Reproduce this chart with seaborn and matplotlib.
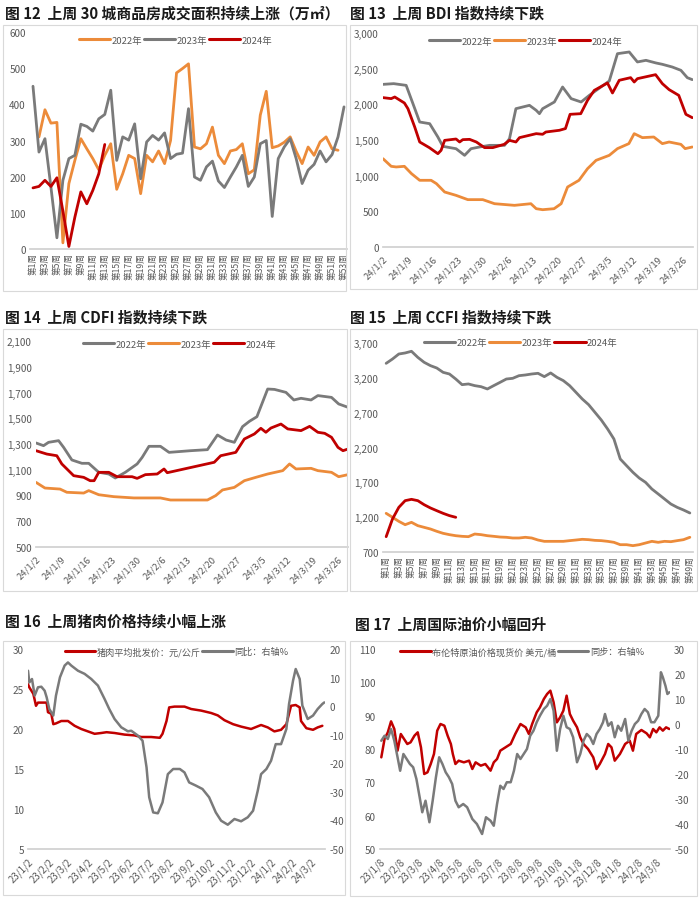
import numpy as np
import pandas as pd
import matplotlib
matplotlib.use("Agg")
import matplotlib.pyplot as plt
import seaborn as sns
from matplotlib.lines import Line2D
from matplotlib.patches import Rectangle
from matplotlib.ticker import FuncFormatter

sns.set_theme(style="white")
plt.rcParams["font.family"] = ["Noto Sans CJK SC", "DejaVu Sans"]
plt.rcParams["axes.unicode_minus"] = False

ORANGE = "#EC8B3A"
GRAY = "#7A7A7A"
RED = "#C00000"
TXT = "#595959"
W, H = 700, 904

# ---- 图12: 30城商品房成交面积 (weekly) ----
weeks53 = list(range(1, 54))
area_2022 = [np.nan, 310, 385, 348, 350, 17, 181, 245, 305, 277, 250, 219, 259, 291, 165, 208, 259, 250, 153, 259,
             241, 271, 236, 300, 487, 499, 512, 282, 277, 291, 337, 259, 236, 271, 275, 291, 208, 219, 370, 436,
             280, 285, 295, 310, 270, 236, 282, 259, 296, 310, 277, 273, np.nan]
area_2023 = [450, 268, 305, 171, 31, 190, 250, 259, 345, 339, 326, 360, 372, 439, 245, 310, 301, 346, 194, 296,
             314, 301, 321, 250, 262, 265, 388, 199, 190, 227, 243, 188, 170, 199, 227, 259, 173, 199, 291, 300,
             90, 250, 282, 305, 250, 181, 218, 234, 271, 241, 261, 310, 393]
area_2024 = [169, 173, 190, 173, 197, 105, 7, 88, 158, 125, 162, 208, 289]

# ---- 图13: BDI (days since 1/2) ----
bdi22_day = [0, 3, 6.5, 8.4, 10.3, 13.1, 15.4, 16.8, 20.5, 22.9, 24.7, 27.1, 29.9, 34.1, 35.5, 37.3, 41.1, 43, 43.9,
             44.8, 48.1, 50.4, 52.8, 55.6, 57.9, 63.5, 65.8, 69.1, 71.4, 73.8, 76.6, 78.4, 81.2, 83.6, 85.4, 86.8]
bdi22 = [2280, 2290, 2266, 2010, 1752, 1729, 1542, 1411, 1378, 1285, 1378, 1402, 1425, 1425, 1519, 1939, 1986, 1916,
         1869, 1939, 2033, 2243, 2080, 2033, 2126, 2327, 2710, 2734, 2594, 2617, 2580, 2561, 2523, 2477, 2374, 2346]
bdi23_day = [0, 2.3, 3.7, 6, 8, 10.3, 13.5, 15, 17.3, 20.5, 23.8, 28, 31.3, 36.9, 41.5, 43, 44.8, 48, 50, 51.8,
             55, 57.4, 59.8, 63.5, 65.8, 69, 70.5, 72.8, 76, 78.4, 80.3, 83.6, 84.8, 86.8]
bdi23 = [1238, 1131, 1122, 1131, 1028, 935, 935, 888, 771, 724, 664, 664, 607, 584, 607, 537, 523, 537, 607, 841,
         935, 1098, 1215, 1285, 1379, 1449, 1589, 1533, 1542, 1449, 1472, 1439, 1379, 1402]
bdi24_day = [0, 2.3, 3.3, 6, 7, 8.9, 10.3, 13, 15.4, 16.3, 17.3, 20.5, 21.5, 22.4, 24.3, 26.2, 28.5, 30.8, 34, 35.5,
             37.3, 38.3, 43, 44.8, 45.7, 49.5, 51.2, 52.5, 55.5, 57.4, 59.3, 63, 64.4, 66.3, 69.5, 70.5, 71.4, 76.5,
             78.4, 80.3, 83, 85, 86.8]
bdi24 = [2094, 2080, 2103, 2019, 1939, 1682, 1472, 1393, 1308, 1355, 1495, 1514, 1472, 1505, 1509, 1472, 1393, 1393,
         1439, 1495, 1472, 1533, 1589, 1580, 1612, 1636, 1660, 1860, 1869, 2056, 2196, 2299, 2159, 2337, 2374, 2313,
         2360, 2416, 2290, 2206, 2126, 1860, 1813]
day_ticks = ["24/1/2", "24/1/9", "24/1/16", "24/1/23", "24/1/30", "24/2/6", "24/2/13",
             "24/2/20", "24/2/27", "24/3/5", "24/3/12", "24/3/19", "24/3/26"]

# ---- 图14: CDFI ----
cdfi22_day = [0, 2.1, 3.5, 6.3, 7.7, 10, 12.8, 14.7, 17.5, 20.3, 22.1, 24.9, 28.2, 29.6, 31.5, 34.7, 37.1, 43.1,
              47.8, 50.6, 53, 55.3, 57.6, 59.5, 61.6, 64.6, 66.5, 69.7, 71.9, 73.9, 76.7, 78.6, 82.4, 84.4, 87]
cdfi22 = [1308, 1287, 1313, 1326, 1274, 1176, 1150, 1150, 1080, 1067, 1036, 1080, 1145, 1196, 1282, 1282, 1235,
          1248, 1256, 1370, 1331, 1313, 1435, 1476, 1512, 1727, 1724, 1701, 1642, 1655, 1642, 1676, 1662, 1611, 1585]
cdfi23_day = [0, 2.5, 6.7, 8.6, 13.3, 14.7, 17.5, 21.7, 27.3, 34.7, 37.5, 47.8, 50.1, 52, 55.3, 58.1, 61.3, 64.6,
              68.8, 70.7, 72.5, 76.7, 78.6, 82.4, 84.4, 87]
cdfi23 = [1002, 958, 950, 925, 919, 938, 906, 891, 881, 881, 865, 865, 899, 943, 963, 1015, 1041, 1067, 1093, 1145,
          1106, 1111, 1093, 1080, 1046, 1062]
cdfi24_day = [0, 3, 5.8, 7.2, 10.5, 13.3, 15.1, 16.2, 17.5, 20.3, 22.6, 26.8, 28.2, 30.5, 33.8, 35.7, 36.6, 49.7,
              51.5, 55.7, 58.1, 60.9, 62.7, 64.1, 65.5, 68.3, 70.2, 73.9, 76.3, 78.6, 80.5, 82.4, 84.2, 85.6, 87]
cdfi24 = [1248, 1222, 1209, 1145, 1054, 1041, 1015, 1015, 1080, 1080, 1046, 1046, 1033, 1062, 1067, 1106, 1077,
          1158, 1209, 1235, 1339, 1378, 1422, 1391, 1424, 1455, 1417, 1404, 1437, 1391, 1383, 1352, 1274, 1248, 1261]

# ---- 图15: CCFI (weekly) ----
weeks49 = list(range(1, 50))
ccfi22 = [3408, 3470, 3542, 3557, 3581, 3494, 3423, 3375, 3341, 3279, 3255, 3183, 3102, 3112, 3088, 3073, 3040,
          3088, 3135, 3183, 3193, 3231, 3241, 3255, 3265, 3217, 3270, 3207, 3160, 3088, 2992, 2896, 2815, 2705,
          2595, 2466, 2322, 2035, 1939, 1844, 1762, 1700, 1604, 1533, 1461, 1389, 1341, 1303, 1260]
ccfi23 = [1255, 1198, 1140, 1092, 1126, 1078, 1054, 1030, 997, 968, 949, 934, 925, 920, 958, 949, 934, 925, 915,
          911, 901, 901, 911, 901, 872, 853, 853, 853, 853, 863, 872, 882, 877, 867, 863, 853, 839, 805, 805, 791,
          805, 829, 853, 839, 853, 848, 863, 877, 911]
ccfi24 = [920, 1174, 1341, 1437, 1456, 1437, 1379, 1332, 1293, 1255, 1222, 1198]

# ---- 图16: 猪肉 (days since 2023-01-02) ----
pork_day = [0, 2, 8, 12, 15, 20, 28, 30, 35, 38, 42, 50, 60, 70, 80, 90, 100, 110, 118, 130, 145, 160, 170, 185,
            198, 202, 208, 212, 220, 235, 245, 260, 275, 285, 295, 308, 320, 335, 350, 360, 370, 380, 388, 395,
            402, 408, 410, 418, 428, 435, 442]
pork_price = [25.6, 25.2, 24.4, 22.9, 23.3, 23.3, 23.3, 22.1, 21.9, 20.6, 20.7, 21.0, 21.0, 20.4, 20.0, 19.7, 19.4,
              19.5, 19.6, 19.5, 19.3, 19.2, 19.0, 19.0, 18.9, 19.4, 21.0, 22.7, 22.8, 22.8, 22.5, 22.3, 22.0, 21.7,
              21.1, 20.6, 20.3, 20.0, 20.5, 20.2, 19.7, 19.9, 20.6, 22.9, 23.0, 22.7, 21.0, 20.1, 19.9, 20.2, 20.4]
pork_yoy_day = [0, 2, 6, 10, 15, 20, 25, 28, 32, 38, 42, 48, 55, 60, 65, 75, 85, 95, 105, 115, 122, 130, 140, 150,
                155, 165, 172, 178, 182, 188, 195, 202, 210, 218, 228, 235, 242, 252, 262, 272, 282, 290, 300, 310,
                320, 330, 338, 345, 350, 358, 365, 372, 380, 388, 392, 398, 402, 408, 412, 420, 428, 435, 442, 445]
pork_yoy = [12.4, 8.3, 9.5, 3.7, 6.6, 6.8, 5.4, 3.1, -1.0, -3.3, 3.7, 10.1, 14.2, 15.3, 14.2, 12.4, 11.3, 9.5, 7.2,
            2.5, -1.0, -4.5, -7.4, -8.8, -8.6, -10.3, -12.1, -21.4, -31.9, -37.2, -37.5, -33.7, -23.8, -22.0, -22.0,
            -23.2, -26.7, -27.8, -29.0, -31.9, -37.2, -40.1, -41.5, -39.5, -40.3, -38.9, -36.6, -29.6, -23.8, -22.0,
            -19.1, -13.3, -13.3, -8.0, 0.75, 8.9, 13.0, 9.5, 0.2, -4.5, -3.3, -1.0, 0.75, 1.3]

# ---- 图17: 布伦特原油 (days since 2023-01-08) ----
oil_day = [2, 7, 12, 17, 22, 27, 32, 37, 42, 47, 53, 58, 63, 68, 73, 78, 83, 88, 93, 99, 104, 109, 112, 116, 121,
           129, 137, 142, 147, 155, 162, 170, 175, 180, 185, 193, 201, 208, 216, 224, 229, 234, 241, 246, 252, 257,
           262, 267, 272, 277, 282, 287, 292, 297, 303, 308, 313, 320, 328, 333, 338, 346, 351, 356, 361, 369, 377,
           384, 389, 394, 402, 410, 415, 420, 425, 430, 435, 440, 445]
oil_price = [77.5, 83, 85, 88.3, 86, 79.5, 84.5, 83, 81.5, 82, 84, 85, 80.5, 72.5, 73, 75.5, 78.5, 85.5, 87.5, 87,
             84, 81.5, 78.5, 75.5, 76.5, 76, 76.5, 74, 76, 75, 75.5, 73.5, 76, 77, 79.5, 80.5, 81.5, 84.5, 87.5,
             86.5, 84.5, 87.5, 91, 92.5, 95, 96.5, 97.5, 94, 88, 89.5, 91.5, 96, 90.5, 88.5, 86.5, 83.5, 81.5, 80,
             77.5, 74, 75.5, 78.5, 81.5, 80.5, 76.5, 78.5, 81.5, 82.5, 79.5, 84.5, 85.7, 84.7, 83.5, 86, 85, 86.5,
             85.5, 86.5, 86]
oil_yoy_day = [2, 7, 12, 17, 22, 27, 31, 36, 41, 46, 51, 56, 61, 65, 70, 76, 81, 86, 91, 96, 101, 106, 111, 116,
               121, 128, 134, 142, 149, 157, 163, 170, 175, 180, 185, 190, 195, 201, 206, 211, 216, 221, 226, 231,
               236, 241, 246, 252, 257, 262, 267, 272, 277, 282, 287, 292, 297, 303, 308, 313, 318, 323, 328, 333,
               338, 343, 346, 351, 356, 361, 366, 371, 377, 382, 387, 392, 397, 402, 407, 412, 417, 422, 428, 432,
               435, 439, 442, 445]
oil_yoy = [-6.7, -4.7, -6.0, -2.0, -6.7, -13.3, -18.7, -12.0, -14.0, -16.0, -17.3, -22.0, -29.3, -35.3, -30.7,
           -39.3, -30.7, -21.3, -13.3, -16.0, -19.3, -21.3, -24.0, -30.7, -33.3, -32.0, -33.3, -38.0, -40.0, -44.0,
           -37.3, -38.7, -40.7, -32.0, -24.7, -26.0, -23.3, -23.3, -18.7, -12.0, -14.0, -12.0, -10.0, -4.7, -2.7,
           0.7, 3.3, 6.0, 7.3, 10.0, 5.3, -10.7, -2.0, 3.3, -1.3, -2.0, -5.3, -15.3, -12.0, -6.7, -4.0, -5.3, -8.0,
           -4.0, -2.0, 0.7, 4.0, -0.7, 0.7, -5.3, -0.7, -2.7, 2.0, -6.7, -2.7, 0.0, 1.3, 4.0, 6.0, 4.7, 0.7, 0.7,
           3.3, 20.7, 18.7, 15.3, 12.0, 12.7]


def place(l, t, r, b):
    return [l / W, 1 - b / H, (r - l) / W, (b - t) / H]


def frame(fig, l, t, r, b):
    fig.patches.append(Rectangle((l / W, 1 - b / H), (r - l) / W, (b - t) / H, transform=fig.transFigure,
                                 fill=False, edgecolor="#d9d9d9", lw=0.8))


def title(fig, x, y, s):
    fig.text(x / W, 1 - y / H, s, fontsize=10.7, fontweight="bold", va="center", ha="left", color="#1a1a1a")


def style(ax, xticks=True):
    for s in ["left", "right", "top"]:
        ax.spines[s].set_visible(False)
    ax.spines["bottom"].set_color("#d0d0d0")
    ax.tick_params(axis="y", length=0, labelsize=7.2, labelcolor=TXT, pad=3)
    ax.tick_params(axis="x", length=3 if xticks else 0, color="#d0d0d0", labelsize=6.8, labelcolor=TXT, pad=2)
    ax.set_xlabel("")
    ax.set_ylabel("")


def legend(ax, colors, labels, x, y, size=6.8):
    handles = [Line2D([0], [0], color=c, lw=2.2) for c in colors]
    leg = ax.legend(handles, labels, loc="upper center", bbox_to_anchor=(x, y), ncol=len(labels), frameon=False,
                    fontsize=size, handlelength=3.3, handletextpad=0.15, columnspacing=0.2, borderaxespad=0)
    for t in leg.get_texts():
        t.set_color(TXT)


def line(ax, x, y, color, lw=2.0):
    sns.lineplot(x=x, y=y, color=color, lw=lw, ax=ax, legend=False, errorbar=None)


comma = FuncFormatter(lambda v, p: f"{v:,.0f}")
fig = plt.figure(figsize=(7, 9.04), dpi=100)
fig.patch.set_facecolor("white")

for box in [(3, 26, 346, 292), (350, 26, 697, 290), (3, 330, 347, 592),
            (350, 330, 697, 592), (3, 642, 345, 896), (350, 642, 697, 897)]:
    frame(fig, *box)

title(fig, 5, 14, "图 12  上周 30 城商品房成交面积持续上涨（万㎡）")
title(fig, 350, 14, "图 13  上周 BDI 指数持续下跌")
title(fig, 5, 318, "图 14  上周 CDFI 指数持续下跌")
title(fig, 350, 318, "图 15  上周 CCFI 指数持续下跌")
title(fig, 5, 622, "图 16  上周猪肉价格持续小幅上涨")
title(fig, 355, 625, "图 17  上周国际油价小幅回升")

# 图12
ax = fig.add_axes(place(30, 33, 347, 250))
line(ax, weeks53, area_2022, ORANGE)
line(ax, weeks53, area_2023, GRAY)
line(ax, weeks53[:len(area_2024)], area_2024, RED)
ax.set_xlim(0.5, 53.5)
ax.set_ylim(0, 600)
ax.set_yticks(range(0, 601, 100))
ax.set_xticks(weeks53[::2])
ax.set_xticklabels([f"第{w}周" for w in weeks53[::2]], rotation=90)
style(ax, xticks=False)
ax.tick_params(axis="x", labelsize=6.2)
legend(ax, [ORANGE, GRAY, RED], ["2022年", "2023年", "2024年"], 0.46, 1.0)

# 图13 / 图14
for pos, ylim, step, series in [
    ((383, 34, 693, 248), (0, 3000), 500,
     [(bdi22_day, bdi22, GRAY), (bdi23_day, bdi23, ORANGE), (bdi24_day, bdi24, RED)]),
    ((36, 342, 348, 548), (500, 2100), 200,
     [(cdfi22_day, cdfi22, GRAY), (cdfi23_day, cdfi23, ORANGE), (cdfi24_day, cdfi24, RED)]),
]:
    ax = fig.add_axes(place(*pos))
    for x, y, c in series:
        line(ax, x, y, c)
    ax.set_xlim(0, 87)
    ax.set_ylim(*ylim)
    ax.set_yticks(range(ylim[0], ylim[1] + 1, step))
    ax.yaxis.set_major_formatter(comma)
    ax.set_xticks(range(0, 85, 7))
    ax.set_xticklabels(day_ticks, rotation=45, ha="right", rotation_mode="anchor")
    style(ax)
    ly = 1.0 if ylim[0] == 0 else 1.025
    legend(ax, [GRAY, ORANGE, RED], ["2022年", "2023年", "2024年"], 0.46, ly)

# 图15
ax = fig.add_axes(place(383, 344, 693, 553))
line(ax, weeks49, ccfi22, GRAY)
line(ax, weeks49, ccfi23, ORANGE)
line(ax, weeks49[:len(ccfi24)], ccfi24, RED)
ax.set_xlim(0.5, 49.5)
ax.set_ylim(700, 3700)
ax.set_yticks(range(700, 3701, 500))
ax.yaxis.set_major_formatter(comma)
ax.set_xticks(weeks49[::2])
ax.set_xticklabels([f"第{w}周" for w in weeks49[::2]], rotation=90)
style(ax, xticks=False)
ax.tick_params(axis="x", labelsize=6.2)
legend(ax, [GRAY, ORANGE, RED], ["2022年", "2023年", "2024年"], 0.445, 1.04)

# 图16 / 图17
for pos, start, left_lim, right_lim, red_xy, gray_xy, labels, lx in [
    ((28, 650, 325, 850), "2023-01-02", (5, 30, 5), (-50, 20, 10),
     (pork_day, pork_price), (pork_yoy_day, pork_yoy), ["猪肉平均批发价：元/公斤", "同比：右轴%"], 0.5),
    ((380, 650, 670, 850), "2023-01-08", (50, 110, 10), (-50, 30, 10),
     (oil_day, oil_price), (oil_yoy_day, oil_yoy), ["布伦特原油价格现货价 美元/桶", "同步：右轴%"], 0.49),
]:
    ax = fig.add_axes(place(*pos))
    ax2 = ax.twinx()
    line(ax, red_xy[0], red_xy[1], RED, lw=1.8)
    line(ax2, gray_xy[0], gray_xy[1], GRAY, lw=1.8)
    t0 = pd.Timestamp(start)
    months = pd.date_range(t0, periods=15, freq=pd.DateOffset(months=1))
    ax.set_xlim(0, 446)
    ax.set_xticks((months - t0).days)
    ax.set_xticklabels([f"{d.year % 100}/{d.month}/{d.day}" for d in months], rotation=45, ha="right",
                       rotation_mode="anchor")
    ax.set_ylim(left_lim[0], left_lim[1])
    ax.set_yticks(range(left_lim[0], left_lim[1] + 1, left_lim[2]))
    ax2.set_ylim(right_lim[0], right_lim[1])
    ax2.set_yticks(range(right_lim[0], right_lim[1] + 1, right_lim[2]))
    style(ax)
    style(ax2)
    ax2.spines["bottom"].set_visible(False)
    ax.tick_params(axis="x", labelsize=7)
    legend(ax2, [RED, GRAY], labels, lx, 1.03, size=6.6)

fig.savefig("out.png", dpi=100)
